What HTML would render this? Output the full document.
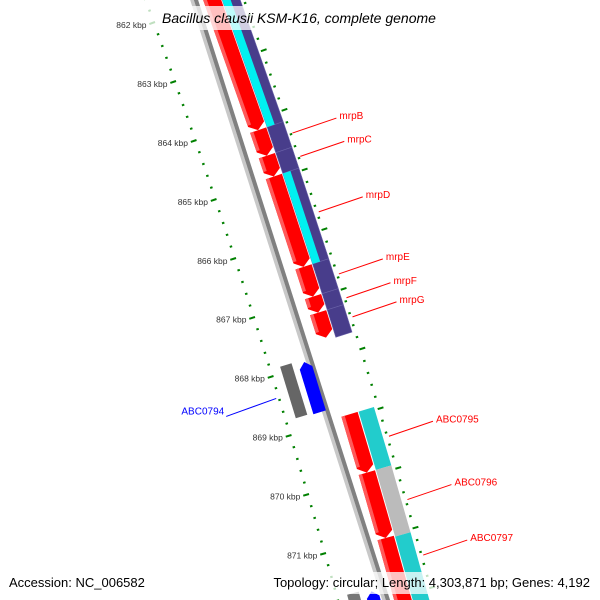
<!DOCTYPE html>
<html><head><meta charset="utf-8"><style>
html,body{margin:0;padding:0;background:#fff;}
svg{display:block;font-family:"Liberation Sans","DejaVu Sans",sans-serif;}
</style></head><body>
<svg id="map" width="600" height="600" viewBox="0 0 600 600" xmlns="http://www.w3.org/2000/svg">
<g id="rulers"></g>
<g id="backbone"></g>
<g id="features"></g>
<g id="labels"></g>
<rect x="148" y="6" width="300" height="24" fill="#fff" fill-opacity="0.75"/>
<text x="299" y="23" text-anchor="middle" font-size="14" font-style="italic" fill="#000">Bacillus clausii KSM-K16, complete genome</text>
<rect x="5" y="572" width="142" height="22" fill="#fff" fill-opacity="0.75"/>
<text x="9" y="587" font-size="13" fill="#000">Accession: NC_006582</text>
<rect x="258" y="572" width="338" height="22" fill="#fff" fill-opacity="0.75"/>
<text x="590" y="587" text-anchor="end" font-size="13" fill="#000">Topology: circular; Length: 4,303,871 bp; Genes: 4,192</text>
</svg>
<script>
// feature data (kbp positions)
const featNames  = ['f-top-red','mrpB','mrpC','mrpD','mrpE','mrpF','mrpG','top-cyan-a','top-cyan-b','ABC0794-gray','ABC0794','ABC0795','ABC0796','ABC0797','ABC0795-b','ABC0796-b','ABC0797-b','bottom-gray','bottom-blue'];
const featStart  = [861.5,864.17,864.6,864.95,866.47,866.97,867.24,861.5,864.95,867.89,867.93,868.95,869.93,871.03,868.95,869.93,871.05,871.75,871.8];
const featEnd    = [864.17,864.6,864.95,866.47,866.97,867.24,867.66,864.17,866.47,868.76,868.78,869.93,871.03,872.3,869.93,871.05,872.3,872.6,872.6];
const featStrand = [1,1,1,1,1,1,1,0,0,0,-1,1,1,1,0,0,0,0,-1];
const featLane   = ['f1','f1','f1','f1','f1','f1','f1','f2a','f2a','r2','r1','f1','f1','f1','f2','f2','f2','r2','r1'];
const featColor  = ['#ff0000','#ff0000','#ff0000','#ff0000','#ff0000','#ff0000','#ff0000','#00f0f0','#00f0f0','#666666','#0000ff','#ff0000','#ff0000','#ff0000','#22cccc','#bbbbbb','#22cccc','#777777','#0000ff'];
// purple track blocks
const purpleStart = [861.5,864.17,864.6,864.95,866.47,866.97,867.24];
const purpleEnd   = [864.17,864.6,864.95,866.47,866.97,867.24,867.7];
// labels
const labelText  = ['mrpB','mrpC','mrpD','mrpE','mrpF','mrpG','ABC0794','ABC0795','ABC0796','ABC0797'];
const labelPos   = [864.39,864.78,865.71,866.75,867.15,867.47,868.36,869.47,870.53,871.46];
const labelColor = ['red','red','red','red','red','red','blue','red','red','red'];
const labelSide  = [1,1,1,1,1,1,-1,1,1,1];
// ruler
const tickMin = 861.6, tickMax = 872.0, tickStep = 0.2;

const S0 = 862;
function C(s){const t=s-S0;return [155+21.25*t-0.25*t*t, 22+59*t];}
function N(s){const t=s-S0;const dx=21.25-0.5*t,dy=59;const l=Math.hypot(dx,dy);return [dy/l,-dx/l];}
function P(s,r){const c=C(s),n=N(s);return [c[0]+r*n[0],c[1]+r*n[1]];}
const lanes={r2:[9,21],r1:[27,40],f1:[53,70],f2:[71,87],f2a:[71,79],pur:[71,88]};
const NS='http://www.w3.org/2000/svg';
function pts(a){return a.map(p=>p[0].toFixed(1)+','+p[1].toFixed(1)).join(' ');}
function shape(s1,s2,r1,r2,strand){
  const h=0.1, m=(r1+r2)/2;
  if(strand===1){return [P(s1,r1),P(s2-h,r1),P(s2,m),P(s2-h,r2),P(s1,r2)];}
  if(strand===-1){return [P(s1+h,r1),P(s2,r1),P(s2,r2),P(s1+h,r2),P(s1,m)];}
  return [P(s1,r1),P(s2,r1),P(s2,r2),P(s1,r2)];
}
function poly(g,p,fill,name,extra){
  const e=document.createElementNS(NS,'polygon');
  e.setAttribute('points',pts(p));e.setAttribute('fill',fill);
  if(extra)for(const k in extra)e.setAttribute(k,extra[k]);
  
  
  g.appendChild(e);return e;
}
// rulers
const rg=document.getElementById('rulers');
for(let i=0;tickMin+i*tickStep<=tickMax+1e-6;i++){
  const s=tickMin+i*tickStep;const major=Math.abs(s-Math.round(s))<1e-6;
  [[0,major?6:2.5],[90,major?6:2.5]].forEach(([r,len],k)=>{
    const a=P(s,r-(k===0?len:0)),b=P(s,r+(k===0?0:len));
    const ln=document.createElementNS(NS,'line');
    ln.setAttribute('x1',a[0]);ln.setAttribute('y1',a[1]);ln.setAttribute('x2',b[0]);ln.setAttribute('y2',b[1]);
    ln.setAttribute('stroke','#008000');ln.setAttribute('stroke-width','2');
    
    
    rg.appendChild(ln);
  });
  if(major){
    const q=P(s,-9);const t=document.createElementNS(NS,'text');
    t.setAttribute('x',q[0]);t.setAttribute('y',q[1]+3);t.setAttribute('text-anchor','end');
    t.setAttribute('font-size','8.5');t.setAttribute('fill','#333');
    t.textContent=Math.round(s)+' kbp';
    
    
    rg.appendChild(t);
  }
}
// backbone
const bg=document.getElementById('backbone');
poly(bg,shape(861.3,872.2,42,45.5,0),'#c8c8c8','backbone-light');
poly(bg,shape(861.3,872.2,45.5,49.5,0),'#808080','backbone-dark');
// features
const fg=document.getElementById('features');
for(let i=0;i<purpleStart.length;i++){
  poly(fg,shape(purpleStart[i],purpleEnd[i],lanes.pur[0],lanes.pur[1],0),'#483d8b','purple-block-'+i,{stroke:'#6a62a8','stroke-width':'0.6'});
}
for(let i=0;i<featNames.length;i++){
  const L=lanes[featLane[i]];
  poly(fg,shape(featStart[i],featEnd[i],L[0],L[1],featStrand[i]),featColor[i],'feature-'+featNames[i]);
  if(featColor[i]==='#ff0000'){
    poly(fg,shape(featStart[i],featEnd[i]-0.12,L[0],L[0]+3.5,0),'#ff5a5a','feature-highlight');
  }
}
// labels
const lg=document.getElementById('labels');
for(let i=0;i<labelText.length;i++){
  const s=labelPos[i];const side=labelSide[i];
  let a,b;
  if(side===1){a=P(s,93);b=[a[0]+44,a[1]-15];}else{a=P(s,-4);b=[a[0]-50,a[1]+18];}
  const ln=document.createElementNS(NS,'line');
  ln.setAttribute('x1',a[0]);ln.setAttribute('y1',a[1]);ln.setAttribute('x2',b[0]);ln.setAttribute('y2',b[1]);
  ln.setAttribute('stroke',labelColor[i]);ln.setAttribute('stroke-width','1');
  
  
  lg.appendChild(ln);
  const t=document.createElementNS(NS,'text');
  t.setAttribute('x',side===1?b[0]+3:b[0]-2);t.setAttribute('y',b[1]+(side===1?1:-2));
  t.setAttribute('text-anchor',side===1?'start':'end');
  t.setAttribute('font-size','10');t.setAttribute('fill',labelColor[i]);
  t.textContent=labelText[i];
  
  
  lg.appendChild(t);
}
</script>
</body></html>
